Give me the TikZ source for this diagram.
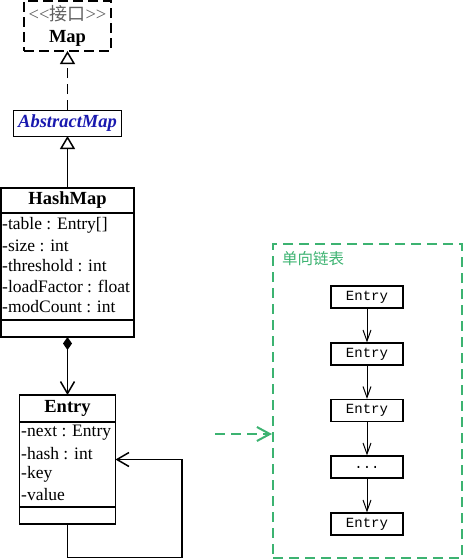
\documentclass[tikz,border=0pt]{standalone}
\usepackage{fontspec}
\setmainfont{Liberation Serif}
\setmonofont{Liberation Mono}
\newfontfamily\cjk{Noto Sans CJK SC}
\usetikzlibrary{arrows.meta}
\definecolor{lgreen}{RGB}{60,179,113}
\definecolor{ablue}{RGB}{25,25,175}
\definecolor{sgray}{RGB}{95,95,95}
\begin{document}
\begin{tikzpicture}[x=1pt,y=-1pt,
  umlbox/.style={draw, rectangle, line width=1.5pt, inner sep=0pt, outer sep=0pt},
  txt/.style={inner sep=0pt, font=\fontsize{17.5}{20}\selectfont},
  attr/.style={anchor=west, inner sep=0pt, font=\fontsize{17.5}{20}\selectfont},
  ebox/.style={draw, rectangle, line width=1.2pt, minimum width=72pt, minimum height=22pt, inner sep=0pt, font=\ttfamily\fontsize{14}{15}\selectfont},
  opentri/.style={-{Triangle[open,length=13pt,width=15pt]}},
  barb/.style={-{Straight Barb[length=12pt,width=14pt]}},
  smallbarb/.style={-{Straight Barb[length=11pt,width=8pt]}},
  greendash/.style={draw=lgreen, line width=2pt, dash pattern=on 10pt off 6pt}
]
\useasboundingbox (0,0) rectangle (463,560);

% Map interface
\node[umlbox, line width=2pt, dash pattern=on 10pt off 5pt, minimum width=87pt, minimum height=50pt] (map) at (67.5,26) {};
\node[txt, text=sgray, font=\fontsize{18.5}{20}\selectfont] (mapst) at (67.5,14) {<\kern0pt<{\cjk\fontsize{18}{20}\selectfont 接口}>\kern0pt>};
\node[txt, font=\bfseries\fontsize{18.5}{20}\selectfont] (mapname) at (67.5,38.5) {Map};

% AbstractMap
\node[umlbox, line width=1pt, minimum width=108pt, minimum height=26pt] (abs) at (67.5,123) {};
\node[txt, text=ablue, font=\bfseries\itshape\fontsize{18.5}{20}\selectfont] (absname) at (67.5,123) {AbstractMap};

% HashMap
\node[umlbox, minimum width=133pt, minimum height=149pt] (hm) at (67.5,262.5) {};
\draw[line width=1.5pt] ([yshift=-25pt]hm.north west) -- ([yshift=-25pt]hm.north east);
\draw[line width=1.5pt] ([yshift=17pt]hm.south west) -- ([yshift=17pt]hm.south east);
\node[txt, font=\bfseries\fontsize{18.5}{20}\selectfont] (hmname) at (67.5,200.5) {HashMap};
\node[attr] (hm1) at (2,225) {-table : Entry[]};
\node[attr] (hm2) at (2,245.5) {-size : int};
\node[attr] (hm3) at (2,266) {-threshold : int};
\node[attr] (hm4) at (2,286.5) {-loadFactor : float};
\node[attr] (hm5) at (2,307) {-modCount : int};

% Entry
\node[umlbox, minimum width=96pt, minimum height=129pt] (en) at (67.5,459.5) {};
\draw[line width=1.5pt] ([yshift=-27pt]en.north west) -- ([yshift=-27pt]en.north east);
\draw[line width=1.5pt] ([yshift=17pt]en.south west) -- ([yshift=17pt]en.south east);
\node[txt, font=\bfseries\fontsize{18.5}{20}\selectfont] (enname) at (67.5,408.5) {Entry};
\node[attr] (en1) at (21,433) {-next : Entry};
\node[attr] (en2) at (21,453.5) {-hash : int};
\node[attr] (en3) at (21,474) {-key};
\node[attr] (en4) at (21,494.5) {-value};

% UML connectors
\draw[line width=1.5pt, dash pattern=on 10pt off 6pt, opentri] (abs.north) -- (map.south);
\draw[line width=1.5pt, opentri] (hm.north) -- (abs.south);
\draw[line width=1.5pt, {Diamond[length=13pt,width=9pt]}-{Straight Barb[length=12pt,width=14pt]}] (hm.south) -- (en.north);
\coordinate (lc) at (182,557.5);
\draw[line width=1.5pt, barb] (en.south) |- (lc) |- (en.east);

% singly linked list
\node[greendash, rectangle, minimum width=189pt, minimum height=314pt, inner sep=0pt] (lst) at (367.5,401) {};
\node[anchor=west, inner sep=0pt, text=lgreen, font=\cjk\fontsize{15.5}{16}\selectfont] (lbl) at (282,259) {单向链表};
\node[ebox] (e1) at (367,297) {Entry};
\node[ebox] (e2) at (367,354) {Entry};
\node[ebox] (e3) at (367,410.5) {Entry};
\node[ebox] (e4) at (367,467) {...};
\node[ebox] (e5) at (367,524) {Entry};
\draw[line width=1pt, smallbarb] (e1) -- (e2);
\draw[line width=1pt, smallbarb] (e2) -- (e3);
\draw[line width=1pt, smallbarb] (e3) -- (e4);
\draw[line width=1pt, smallbarb] (e4) -- (e5);

\coordinate (gs) at (215,434);
\draw[greendash, -{Straight Barb[length=13pt,width=14pt]}] (gs) -- (gs -| lst.west);
\end{tikzpicture}
\end{document}
